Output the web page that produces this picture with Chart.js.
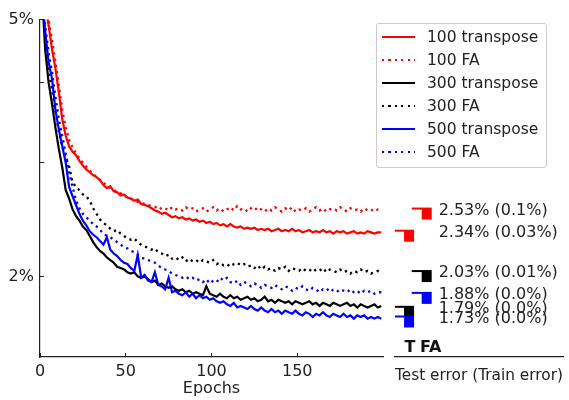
<!DOCTYPE html>
<html>
<head>
<meta charset="utf-8">
<script src="https://cdn.jsdelivr.net/npm/chart.js@4"></script>
<style>
body { margin: 0; background: #fff; }
#wrap { position: relative; width: 569px; height: 400px; font-family: 'DejaVu Sans', sans-serif; }
#main { position: absolute; left: 0; top: 0; }
#side { position: absolute; left: 385px; top: 0; }
#legend { position: absolute; left: 376px; top: 23px; width: 169px; height: 143px; border: 1px solid #ccc; border-radius: 3px; background: rgba(255,255,255,0.8); }
.row { position: absolute; left: 0; width: 165px; height: 20px; }
.swatch { position: absolute; left: 5px; top: 9px; width: 33px; height: 2px; }
.row span { position: absolute; left: 50px; top: 0; font-size: 15.5px; line-height: 20px; color: #222; white-space: nowrap; }
</style>
</head>
<body>
<div id="wrap">
  <canvas id="main" width="569" height="400"></canvas>
  <canvas id="side" width="184" height="400"></canvas>
  <div id="legend"></div>
</div>
<script>
/* data: test error (%) every 2nd epoch */

var epochs = [];
for (var e = 1; e < 200; e += 2) epochs.push(e);

var red100T = [
  6.5, 5.3, 4.9, 4.5, 4.2, 3.85, 3.5, 3.3, 3.18, 3.12,
  3.08, 3.02, 2.97, 2.93, 2.90, 2.87, 2.85, 2.82, 2.77, 2.74,
  2.76, 2.71, 2.70, 2.67, 2.68, 2.65, 2.64, 2.62, 2.63, 2.59,
  2.58, 2.57, 2.55, 2.53, 2.52, 2.50, 2.51, 2.49, 2.47, 2.48,
  2.46, 2.47, 2.45, 2.46, 2.44, 2.45, 2.43, 2.44, 2.42, 2.43,
  2.41, 2.42, 2.40, 2.41, 2.39, 2.41, 2.39, 2.38, 2.39, 2.37,
  2.38, 2.37, 2.38, 2.36, 2.37, 2.36, 2.37, 2.35, 2.36, 2.37,
  2.35, 2.36, 2.35, 2.37, 2.35, 2.36, 2.34, 2.35, 2.36, 2.34,
  2.35, 2.34, 2.36, 2.34, 2.35, 2.33, 2.35, 2.34, 2.35, 2.33,
  2.34, 2.35, 2.33, 2.34, 2.33, 2.35, 2.34, 2.33, 2.34, 2.34
];
var red100FA = [
  6.8, 5.6, 5.0, 4.65, 4.3, 3.95, 3.62, 3.4, 3.25, 3.17,
  3.10, 3.05, 3.00, 2.96, 2.92, 2.88, 2.85, 2.82, 2.79, 2.77,
  2.74, 2.72, 2.70, 2.69, 2.67, 2.65, 2.64, 2.62, 2.61, 2.60,
  2.59, 2.58, 2.57, 2.56, 2.57, 2.54, 2.55, 2.53, 2.56, 2.54,
  2.55, 2.53, 2.56, 2.54, 2.55, 2.52, 2.54, 2.55, 2.52, 2.54,
  2.56, 2.53, 2.55, 2.52, 2.54, 2.56, 2.53, 2.57, 2.54, 2.55,
  2.52, 2.55, 2.53, 2.56, 2.54, 2.52, 2.55, 2.53, 2.56, 2.54,
  2.52, 2.55, 2.53, 2.56, 2.52, 2.54, 2.53, 2.55, 2.52, 2.54,
  2.56, 2.53, 2.55, 2.52, 2.54, 2.55, 2.53, 2.56, 2.54, 2.52,
  2.55, 2.53, 2.54, 2.52, 2.55, 2.53, 2.54, 2.52, 2.54, 2.53
];
var black300T = [
  5.6, 4.5, 4.0, 3.7, 3.4, 3.15, 2.95, 2.72, 2.64, 2.54,
  2.48, 2.44, 2.39, 2.36, 2.31, 2.26, 2.22, 2.19, 2.17, 2.14,
  2.12, 2.10, 2.07, 2.06, 2.05, 2.03, 2.02, 2.03, 2.00, 1.99,
  2.00, 1.98, 1.96, 1.97, 1.94, 1.95, 1.93, 1.92, 1.93, 1.91,
  1.90, 1.91, 1.89, 1.90, 1.88, 1.89, 1.88, 1.87, 1.93, 1.88,
  1.87, 1.86, 1.88, 1.86, 1.85, 1.87, 1.85, 1.86, 1.84, 1.85,
  1.86, 1.84, 1.85, 1.83, 1.84, 1.86, 1.83, 1.84, 1.82, 1.84,
  1.83, 1.82, 1.83, 1.81, 1.83, 1.82, 1.81, 1.82, 1.83, 1.81,
  1.82, 1.80, 1.82, 1.81, 1.80, 1.82, 1.81, 1.80, 1.81, 1.82,
  1.80, 1.81, 1.79, 1.81, 1.80, 1.79, 1.80, 1.81, 1.79, 1.80
];
var black300FA = [
  5.9, 4.7, 4.2, 3.9, 3.6, 3.35, 3.18, 3.05, 2.96, 2.80,
  2.75, 2.72, 2.68, 2.66, 2.62, 2.55, 2.50, 2.45, 2.42, 2.40,
  2.37, 2.35, 2.36, 2.33, 2.31, 2.29, 2.28, 2.29, 2.26, 2.24,
  2.23, 2.21, 2.20, 2.21, 2.18, 2.17, 2.15, 2.16, 2.13, 2.14,
  2.12, 2.14, 2.11, 2.13, 2.11, 2.12, 2.10, 2.12, 2.11, 2.10,
  2.12, 2.09, 2.10, 2.08, 2.09, 2.07, 2.09, 2.10, 2.08, 2.09,
  2.07, 2.08, 2.06, 2.08, 2.05, 2.07, 2.05, 2.06, 2.04, 2.06,
  2.05, 2.07, 2.04, 2.06, 2.05, 2.04, 2.06, 2.04, 2.05, 2.03,
  2.05, 2.04, 2.06, 2.03, 2.05, 2.04, 2.03, 2.05, 2.03, 2.04,
  2.02, 2.04, 2.03, 2.05, 2.03, 2.04, 2.02, 2.03, 2.04, 2.03
];
var blue500T = [
  5.5, 4.8, 4.3, 4.05, 3.62, 3.38, 3.18, 3.0, 2.75, 2.66,
  2.58, 2.50, 2.44, 2.40, 2.35, 2.32, 2.30, 2.27, 2.24, 2.30,
  2.20, 2.17, 2.15, 2.12, 2.10, 2.09, 2.06, 2.04, 2.16, 1.99,
  2.01, 1.97, 1.96, 2.03, 1.94, 1.93, 1.91, 1.99, 1.89, 1.90,
  1.88, 1.87, 1.89, 1.86, 1.88, 1.85, 1.87, 1.85, 1.86, 1.84,
  1.85, 1.83, 1.82, 1.83, 1.81, 1.80, 1.82, 1.79, 1.80, 1.79,
  1.78, 1.80, 1.78, 1.77, 1.79, 1.77, 1.76, 1.78, 1.76, 1.77,
  1.75, 1.77, 1.76, 1.75, 1.77, 1.75, 1.74, 1.76, 1.75, 1.73,
  1.75, 1.74, 1.76, 1.74, 1.73, 1.75, 1.74, 1.73, 1.75, 1.73,
  1.74, 1.72, 1.74, 1.73, 1.74, 1.72, 1.73, 1.72, 1.73, 1.72
];
var blue500FA = [
  5.8, 4.9, 4.45, 4.15, 3.8, 3.5, 3.3, 3.1, 2.9, 2.75,
  2.62, 2.55, 2.50, 2.47, 2.44, 2.41, 2.39, 2.36, 2.33, 2.31,
  2.30, 2.28, 2.26, 2.24, 2.22, 2.21, 2.19, 2.18, 2.16, 2.14,
  2.13, 2.12, 2.11, 2.10, 2.08, 2.06, 2.05, 2.04, 2.02, 2.01,
  2.00, 1.99, 2.00, 1.98, 1.99, 1.97, 1.98, 1.96, 1.98, 1.95,
  1.97, 1.96, 1.99, 1.97, 1.99, 1.96, 1.95, 1.97, 1.94, 1.96,
  1.95, 1.93, 1.95, 1.94, 1.92, 1.94, 1.93, 1.92, 1.94, 1.92,
  1.91, 1.93, 1.92, 1.90, 1.92, 1.91, 1.93, 1.91, 1.90, 1.92,
  1.91, 1.89, 1.91, 1.90, 1.92, 1.90, 1.89, 1.91, 1.90, 1.89,
  1.91, 1.89, 1.90, 1.88, 1.90, 1.89, 1.90, 1.88, 1.89, 1.89
];

var seriesNames = ['100 transpose', '100 FA', '300 transpose', '300 FA', '500 transpose', '500 FA'];
var seriesColors = ['#ff0000', '#ff0000', '#000000', '#000000', '#0000ff', '#0000ff'];
var seriesDotted = [false, true, false, true, false, true];
var seriesValues = [red100T, red100FA, black300T, black300FA, blue500T, blue500FA];

var xTicks = [0, 50, 100, 150];
var yTicks = [2, 3, 4, 5];
var yTickLabels = ['2%', '', '', '5%'];

/* final results panel */
var colLabels = ['T', 'FA'];
var finalCol = [1, 0, 1, 1, 0, 0];
var finalVals = [2.53, 2.34, 2.03, 1.88, 1.79, 1.73];
var finalColors = ['#ff0000', '#ff0000', '#000000', '#0000ff', '#000000', '#0000ff'];
var finalText = ['2.53% (0.1%)', '2.34% (0.03%)', '2.03% (0.01%)', '1.88% (0.0%)', '1.79% (0.0%)', '1.73% (0.0%)'];

Chart.defaults.font.family = "'DejaVu Sans', sans-serif";
Chart.defaults.font.size = 16;
Chart.defaults.color = '#222';

/* main chart */

var datasets = [];
for (var i = 0; i < seriesValues.length; i++) {
  var pts = [];
  for (var j = 0; j < epochs.length; j++) {
    pts.push({ x: epochs[j], y: seriesValues[i][j] });
  }
  datasets.push({
    label: seriesNames[i],
    data: pts,
    borderColor: seriesColors[i],
    borderWidth: seriesDotted[i] ? 2.3 : 2.2,
    borderDash: seriesDotted[i] ? [2.3, 4] : [],
    pointRadius: 0,
    tension: 0,
    order: seriesValues.length - i
  });
}

new Chart(document.getElementById('main'), {
  type: 'line',
  data: { datasets: datasets },
  options: {
    responsive: false,
    animation: false,
    layout: { padding: { top: 15, right: 186, left: 0, bottom: 0 } },
    plugins: { legend: { display: false }, tooltip: { enabled: false } },
    scales: {
      x: {
        type: 'linear', min: 0, max: 200,
        afterBuildTicks: function (s) { s.ticks = xTicks.map(function (v) { return { value: v }; }); },
        afterFit: function (s) { s.height = 43; },
        grid: { drawOnChartArea: false, tickLength: -4, tickColor: '#222' },
        border: { color: '#222', width: 1.2 },
        ticks: { padding: 9, maxRotation: 0, color: '#222' },
        title: { display: true, text: 'Epochs', padding: { top: 0, bottom: 2 } }
      },
      y: {
        type: 'logarithmic', min: 1.5, max: 5,
        afterBuildTicks: function (s) { s.ticks = yTicks.map(function (v) { return { value: v }; }); },
        afterFit: function (s) { s.width = 40; },
        grid: { drawOnChartArea: false, tickLength: -4, tickColor: '#222' },
        border: { color: '#222', width: 1.2 },
        ticks: {
          padding: 10, color: '#222',
          callback: function (v, idx) { return yTickLabels[idx]; }
        }
      }
    }
  }
});

/* side panel with final errors */

function markImage(color) {
  var c = document.createElement('canvas');
  c.width = 40; c.height = 26;
  var g = c.getContext('2d');
  g.fillStyle = color;
  g.fillRect(5, 12, 20, 2);
  g.fillRect(15, 13, 10, 11);
  return c;
}

var finalPts = [];
var finalMarks = [];
for (var k = 0; k < finalVals.length; k++) {
  finalPts.push({ x: finalCol[k], y: finalVals[k] });
  finalMarks.push(markImage(finalColors[k]));
}

var finalLabelsPlugin = {
  id: 'finalLabels',
  afterDatasetsDraw: function (chart) {
    var ctx = chart.ctx, xs = chart.scales.x, ys = chart.scales.y;
    ctx.save();
    ctx.font = "16px 'DejaVu Sans'";
    ctx.fillStyle = '#222';
    ctx.textBaseline = 'middle';
    for (var k = 0; k < finalVals.length; k++) {
      ctx.fillText(finalText[k], xs.getPixelForValue(1) + 12, ys.getPixelForValue(finalVals[k]) + 2);
    }
    // column names sit just above the bottom line
    ctx.font = "bold 16px 'DejaVu Sans'";
    ctx.fillStyle = '#111';
    ctx.textAlign = 'center';
    ctx.fillText(colLabels[0], xs.getPixelForValue(0) + 1, xs.top - 9);
    ctx.fillText(colLabels[1], xs.getPixelForValue(1) + 4, xs.top - 9);
    ctx.restore();
  }
};

new Chart(document.getElementById('side'), {
  type: 'line',
  data: {
    datasets: [{
      data: finalPts,
      showLine: false,
      pointStyle: finalMarks,
      pointRadius: 5
    }]
  },
  options: {
    responsive: false,
    animation: false,
    layout: { padding: { top: 15, right: 2, left: 10, bottom: 0 } },
    plugins: { legend: { display: false }, tooltip: { enabled: false } },
    scales: {
      x: {
        type: 'linear', min: -0.8, max: 8.76,
        afterFit: function (s) { s.height = 43; },
        grid: { drawOnChartArea: false, drawTicks: false },
        border: { color: '#222', width: 1.2 },
        ticks: { display: false },
        title: { display: true, text: 'Test error (Train error)', padding: { top: 0, bottom: 15 } }
      },
      y: { type: 'logarithmic', min: 1.5, max: 5, display: false }
    }
  },
  plugins: [finalLabelsPlugin]
});

/* legend */

var legend = document.getElementById('legend');
for (var n = 0; n < seriesNames.length; n++) {
  var row = document.createElement('div');
  row.className = 'row';
  row.style.top = (3 + n * 23) + 'px';
  var sw = document.createElement('div');
  sw.className = 'swatch';
  if (seriesDotted[n]) {
    sw.style.background = 'repeating-linear-gradient(to right, ' + seriesColors[n] + ' 0 2.2px, transparent 2.2px 6.4px)';
  } else {
    sw.style.background = seriesColors[n];
  }
  var tx = document.createElement('span');
  tx.textContent = seriesNames[n];
  row.appendChild(sw);
  row.appendChild(tx);
  legend.appendChild(row);
}
</script>
</body>
</html>
